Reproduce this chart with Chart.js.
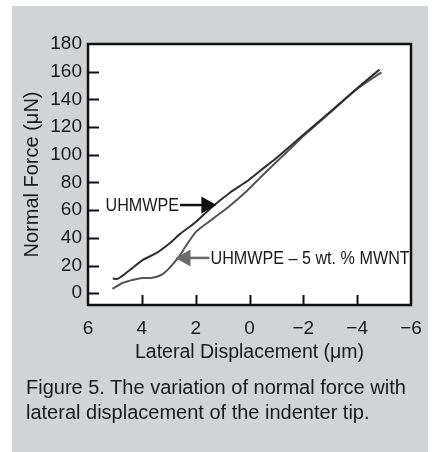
<!DOCTYPE html>
<html>
<head>
<meta charset="utf-8">
<script src="https://cdn.jsdelivr.net/npm/chart.js@4"></script>
<style>
  html, body { margin: 0; padding: 0; background: #fff; }
  #panel { position: absolute; left: 12px; top: 6px; width: 416px; height: 446px; background: #d1d3d4; }
  #chart { position: absolute; left: 0; top: 0; }
  #caption {
    position: absolute; left: 26px; top: 375px;
    font: 20px "Liberation Sans", Arial, sans-serif; line-height: 25px; color: #1a1a1a;
  }
</style>
</head>
<body>
<div id="panel"></div>
<canvas id="chart" width="434" height="380"></canvas>
<div id="caption">Figure 5. The variation of normal force with<br>lateral displacement of the indenter tip.</div>
<script>
// データ
const xTicks = [6, 4, 2, 0, -2, -4, -6];
const yTicks = [0, 20, 40, 60, 80, 100, 120, 140, 160, 180];

const pureX = [5.08, 4.88, 4.44, 3.96, 3.45, 3.0, 2.6, 1.98, 1.38, 0.74, 0.12, -0.4, -1.0, -1.5, -2, -3, -4, -4.83];
const pureY = [10.5, 10.5, 16.8, 24.1, 29.1, 35.5, 42.5, 51.7, 62.5, 72.4, 80.5, 88.5, 97.7, 106, 114.5, 131, 148, 161.5];

const mwntX = [5.09, 4.72, 4.35, 3.98, 3.61, 3.27, 2.97, 2.6, 2.4, 1.98, 1.38, 0.74, 0.12, -0.4, -0.9, -1.5, -2, -3, -4, -4.9];
const mwntY = [3.1, 7.4, 9.6, 11.0, 11.2, 13.2, 18.3, 27, 33, 44.5, 53.5, 63, 73.5, 83.5, 93, 104, 113.5, 130.5, 147.5, 159.5];

const seriesNames = ["UHMWPE", "UHMWPE \u2013 5 wt. % MWNT"];

// 矢印付きラベル（データ座標で指定）
const notes = [
    { text: seriesNames[0], textX: 5.35, tipX: 1.23, y: 63.7, dir: 1, color: "#111" },
    { text: seriesNames[1], textX: 1.45, tipX: 2.75, y: 25.5, dir: -1, color: "#6b6b6b" },
];

const toPoints = (xs, ys) => xs.map((x, i) => ({ x: x, y: ys[i] }));
const fmt = v => (v < 0 ? "\u2212" + Math.abs(v) : String(v));

const framePlugin = {
    id: "frame",
    beforeDraw(chart) {
        const { ctx, chartArea: a } = chart;
        ctx.save();
        ctx.fillStyle = "#fff";
        ctx.fillRect(a.left, a.top, a.right - a.left, a.bottom - a.top);
        ctx.restore();
    },
    afterDatasetsDraw(chart) {
        const { ctx, chartArea: a, scales } = chart;
        ctx.save();
        ctx.strokeStyle = "#111";
        ctx.lineWidth = 2;
        // 内向きの目盛り
        ctx.beginPath();
        xTicks.slice(1, -1).forEach(v => {
            const px = Math.round(scales.x.getPixelForValue(v)) + 0.5;
            ctx.moveTo(px, a.bottom);
            ctx.lineTo(px, a.bottom - 10);
        });
        yTicks.slice(0, -1).forEach(v => {
            const py = Math.round(scales.y.getPixelForValue(v)) + 0.5;
            ctx.moveTo(a.left, py);
            ctx.lineTo(a.left + 11, py);
        });
        ctx.stroke();
        // 枠
        ctx.lineWidth = 2.5;
        ctx.strokeRect(a.left, a.top, a.right - a.left, a.bottom - a.top);

        // 注釈（細長い書体の代わりに横幅を詰める）
        ctx.font = '19px "Liberation Sans", Arial, sans-serif';
        ctx.textBaseline = "middle";
        notes.forEach(n => {
            const tx = scales.x.getPixelForValue(n.textX);
            const tip = scales.x.getPixelForValue(n.tipX);
            const py = scales.y.getPixelForValue(n.y);
            const w = ctx.measureText(n.text).width * 0.85;
            ctx.fillStyle = "#1a1a1a";
            ctx.textAlign = "left";
            ctx.fillText(n.text, tx, py + 1, w);
            const head = 15;
            const base = tip - n.dir * head;
            ctx.strokeStyle = n.color;
            ctx.fillStyle = n.color;
            ctx.lineWidth = 2.5;
            ctx.beginPath();
            if (n.dir > 0) {
                ctx.moveTo(tx + w + 1, py);
                ctx.lineTo(base + 1, py);
            } else {
                ctx.moveTo(base - 1, py);
                ctx.lineTo(tx - 1, py);
            }
            ctx.stroke();
            ctx.beginPath();
            ctx.moveTo(tip, py);
            ctx.lineTo(base, py - 8.5);
            ctx.lineTo(base, py + 8.5);
            ctx.closePath();
            ctx.fill();
        });
        ctx.restore();
    },
};

new Chart(document.getElementById("chart").getContext("2d"), {
    type: "scatter",
    data: {
        datasets: [
            {
                label: seriesNames[0],
                data: toPoints(pureX, pureY),
                showLine: true,
                borderColor: "#2e2e2e",
                borderWidth: 2,
                pointRadius: 0,
                tension: 0.25,
            },
            {
                label: seriesNames[1],
                data: toPoints(mwntX, mwntY),
                showLine: true,
                borderColor: "#555",
                borderWidth: 2,
                pointRadius: 0,
                tension: 0.25,
            },
        ],
    },
    options: {
        responsive: false,
        animation: false,
        devicePixelRatio: 1,
        layout: { padding: { left: 0, top: 44, right: 23, bottom: 0 } },
        plugins: { legend: { display: false }, tooltip: { enabled: false } },
        scales: {
            x: {
                type: "linear",
                reverse: true,
                min: -6,
                max: 6,
                afterBuildTicks: s => { s.ticks = xTicks.map(v => ({ value: v })); },
                afterFit: s => { s.height = 75; },
                grid: { display: false, drawTicks: false },
                border: { display: false },
                ticks: {
                    padding: 12,
                    color: "#1a1a1a",
                    font: { family: '"Liberation Sans", Arial, sans-serif', size: 19 },
                    callback: v => fmt(v),
                    maxRotation: 0,
                },
                title: {
                    display: true,
                    text: "Lateral Displacement (\u03bcm)",
                    color: "#1a1a1a",
                    font: { family: '"Liberation Sans", Arial, sans-serif', size: 19.5 },
                    padding: { top: 0, bottom: 16 },
                },
            },
            y: {
                min: -8.5,
                max: 180,
                afterBuildTicks: s => { s.ticks = yTicks.map(v => ({ value: v })); },
                afterFit: s => { s.width = 88; },
                grid: { display: false, drawTicks: false },
                border: { display: false },
                ticks: {
                    padding: 6,
                    color: "#1a1a1a",
                    font: { family: '"Liberation Sans", Arial, sans-serif', size: 19 },
                    callback: v => fmt(v),
                },
                title: {
                    display: true,
                    text: "Normal Force (\u03bcN)",
                    color: "#1a1a1a",
                    font: { family: '"Liberation Sans", Arial, sans-serif', size: 20 },
                    padding: { top: 20, bottom: 0 },
                },
            },
        },
    },
    plugins: [framePlugin],
});
</script>
</body>
</html>
